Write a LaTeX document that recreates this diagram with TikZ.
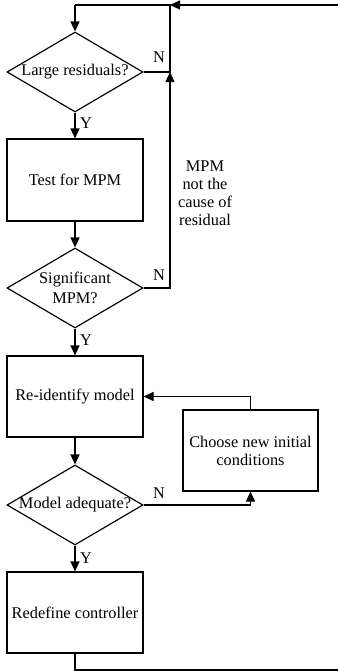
\documentclass[tikz,border=0pt]{standalone}
\usepackage{fontspec}
\setmainfont{Liberation Serif}
\usetikzlibrary{shapes.geometric,arrows.meta}
\begin{document}
\begin{tikzpicture}[x=0.6pt,y=-0.6pt,
  font=\fontsize{9.8}{10.8}\selectfont,
  line width=0.7pt,
  every node/.style={inner sep=0pt},
  procbox/.style={draw,rectangle,minimum width=136*0.6pt,minimum height=81*0.6pt,align=center},
  decision/.style={draw,diamond,minimum width=136*0.6pt,minimum height=80*0.6pt},
  arr/.style={-{Triangle[length=6pt,width=5.4pt]}},
  flag/.style={font=\fontsize{9.8}{10.8}\selectfont}
]
\useasboundingbox (0,0) rectangle (338,671);

% decisions and process steps
\node[decision,label={center:Large residuals?}] (d1) at (75,72) {};
\node[procbox,minimum height=82*0.6pt] (b1) at (75,180) {Test for MPM};
\node[decision,label={[align=center,font=\fontsize{9.8}{12}\selectfont]center:Significant\\MPM?}] (d2) at (75,288) {};
\node[procbox] (b2) at (75,396.5) {Re-identify model};
\node[procbox,minimum width=135*0.6pt] (c) at (250.5,450.5) {Choose new initial\\conditions};
\node[decision,label={center:Model adequate?}] (d3) at (75,505) {};
\node[procbox] (b3) at (75,612.5) {Redefine controller};

% junction points of the return path
\coordinate (j0) at (170,5);
\coordinate (j1) at (170,72);
\coordinate (top) at (75,5);
\coordinate (bl) at (75,670);
\coordinate (br) at (345,670);
\coordinate (tr) at (345,5);

% main flow
\draw[arr] (top) -- (d1.north);
\draw[arr] (d1.south) -- (b1.north);
\draw[arr] (b1.south) -- (d2.north);
\draw[arr] (d2.south) -- (b2.north);
\draw[arr] (b2.south) -- (d3.north);
\draw[arr] (d3.south) -- (b3.north);

% "no" branches
\draw (d1.east) -- (j1) -- (j0) -- (top);
\draw[arr] (d2.east) -- (j1 |- d2.east) -- (j1);
\draw[arr] (d3.east) -| (c.south);
\draw[arr] (c.north) |- (b2.east);

% loop back to the start
\draw[arr] (b3.south) -- (bl) -- (br) -- (tr) -- (j0);

% branch labels
\node[flag] (n1) at (159,57) {N};
\node[flag] (n2) at (159,275) {N};
\node[flag] (n3) at (159,493) {N};
\node[flag] (y1) at (86,123) {Y};
\node[flag] (y2) at (86,340) {Y};
\node[flag] (y3) at (86,558) {Y};
\node[align=center] (note) at (205,193.5) {MPM\\not the\\cause of\\residual};
\end{tikzpicture}
\end{document}
